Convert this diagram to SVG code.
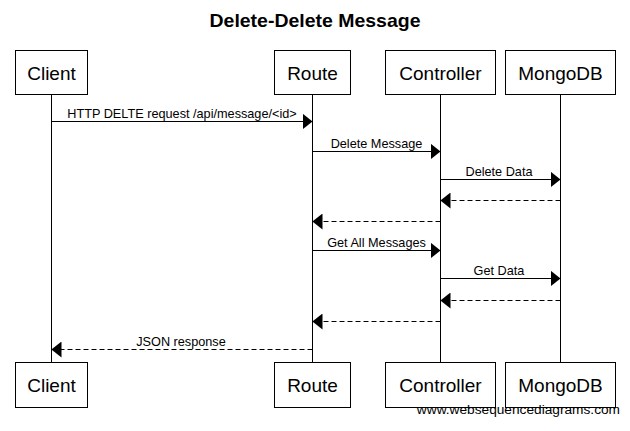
<svg xmlns="http://www.w3.org/2000/svg" width="630" height="431" viewBox="0 0 630 431">
<style>
.bg{fill:#ffffff}
.box{fill:#ffffff;stroke:#000000;stroke-width:1}
.life{stroke:#000000;stroke-width:1;fill:none}
.pl{font-family:"Liberation Sans",Arial,sans-serif;font-size:19px;fill:#000000;text-anchor:middle}
.title{font-family:"Liberation Sans",Arial,sans-serif;font-size:19px;font-weight:bold;fill:#000000;text-anchor:middle}
.msg{stroke:#000000;stroke-width:1;fill:none;marker-end:url(#ah)}
.ret{stroke:#000000;stroke-width:1;fill:none;stroke-dasharray:5,3;marker-end:url(#ah)}
.lbl{font-family:"Liberation Sans",Arial,sans-serif;font-size:12.7px;fill:#000000;text-anchor:middle}
.wm{font-family:"Liberation Sans",Arial,sans-serif;font-size:13.7px;fill:#000000;text-anchor:end}
</style>
<defs>
<marker id="ah" markerUnits="userSpaceOnUse" markerWidth="10" markerHeight="16" refX="10" refY="8" orient="auto" viewBox="0 0 10 16">
<path d="M0,0 L10,8 L0,16 Z" fill="#000000"/>
</marker>
</defs>
<rect class="bg" x="0" y="0" width="630" height="431"/>
<text class="title" x="315" y="27" textLength="211" lengthAdjust="spacingAndGlyphs">Delete-Delete Message</text>

<g id="client">
<line class="life" x1="51.5" y1="94.5" x2="51.5" y2="362.5"/>
<rect class="box" x="15.5" y="50.5" width="72" height="44"/>
<text class="pl" x="51.5" y="79.5">Client</text>
<rect class="box" x="15.5" y="362.5" width="72" height="45"/>
<text class="pl" x="51.5" y="392">Client</text>
</g>

<g id="route">
<line class="life" x1="312.5" y1="94.5" x2="312.5" y2="362.5"/>
<rect class="box" x="274.5" y="50.5" width="76" height="44"/>
<text class="pl" x="312.5" y="79.5">Route</text>
<rect class="box" x="274.5" y="362.5" width="76" height="45"/>
<text class="pl" x="312.5" y="392">Route</text>
</g>

<g id="controller">
<line class="life" x1="440.5" y1="94.5" x2="440.5" y2="362.5"/>
<rect class="box" x="385.5" y="50.5" width="110" height="44"/>
<text class="pl" x="440.5" y="79.5">Controller</text>
<rect class="box" x="385.5" y="362.5" width="110" height="45"/>
<text class="pl" x="440.5" y="392">Controller</text>
</g>

<g id="mongodb">
<line class="life" x1="560.5" y1="94.5" x2="560.5" y2="362.5"/>
<rect class="box" x="505.5" y="50.5" width="110" height="44"/>
<text class="pl" x="560.5" y="79.5">MongoDB</text>
<rect class="box" x="505.5" y="362.5" width="110" height="45"/>
<text class="pl" x="560.5" y="392">MongoDB</text>
</g>

<g id="connectors">
<line class="msg" x1="51.5" y1="121.5" x2="312.5" y2="121.5"/>
<text class="lbl" x="182" y="118">HTTP DELTE request /api/message/&lt;id&gt;</text>
<line class="msg" x1="312.5" y1="151.5" x2="440.5" y2="151.5"/>
<text class="lbl" x="376.5" y="148">Delete Message</text>
<line class="msg" x1="440.5" y1="179.5" x2="560.5" y2="179.5"/>
<text class="lbl" x="499" y="176">Delete Data</text>
<line class="ret" x1="560.5" y1="200.5" x2="440.5" y2="200.5"/>
<line class="ret" x1="440.5" y1="221.5" x2="312.5" y2="221.5"/>
<line class="msg" x1="312.5" y1="250.5" x2="440.5" y2="250.5"/>
<text class="lbl" x="376.5" y="247">Get All Messages</text>
<line class="msg" x1="440.5" y1="278.5" x2="560.5" y2="278.5"/>
<text class="lbl" x="499" y="275">Get Data</text>
<line class="ret" x1="560.5" y1="300.5" x2="440.5" y2="300.5"/>
<line class="ret" x1="440.5" y1="321.5" x2="312.5" y2="321.5"/>
<line class="ret" x1="312.5" y1="349.5" x2="51.5" y2="349.5"/>
<text class="lbl" x="181" y="346">JSON response</text>
</g>

<text class="wm" x="620" y="414">www.websequencediagrams.com</text>
</svg>
